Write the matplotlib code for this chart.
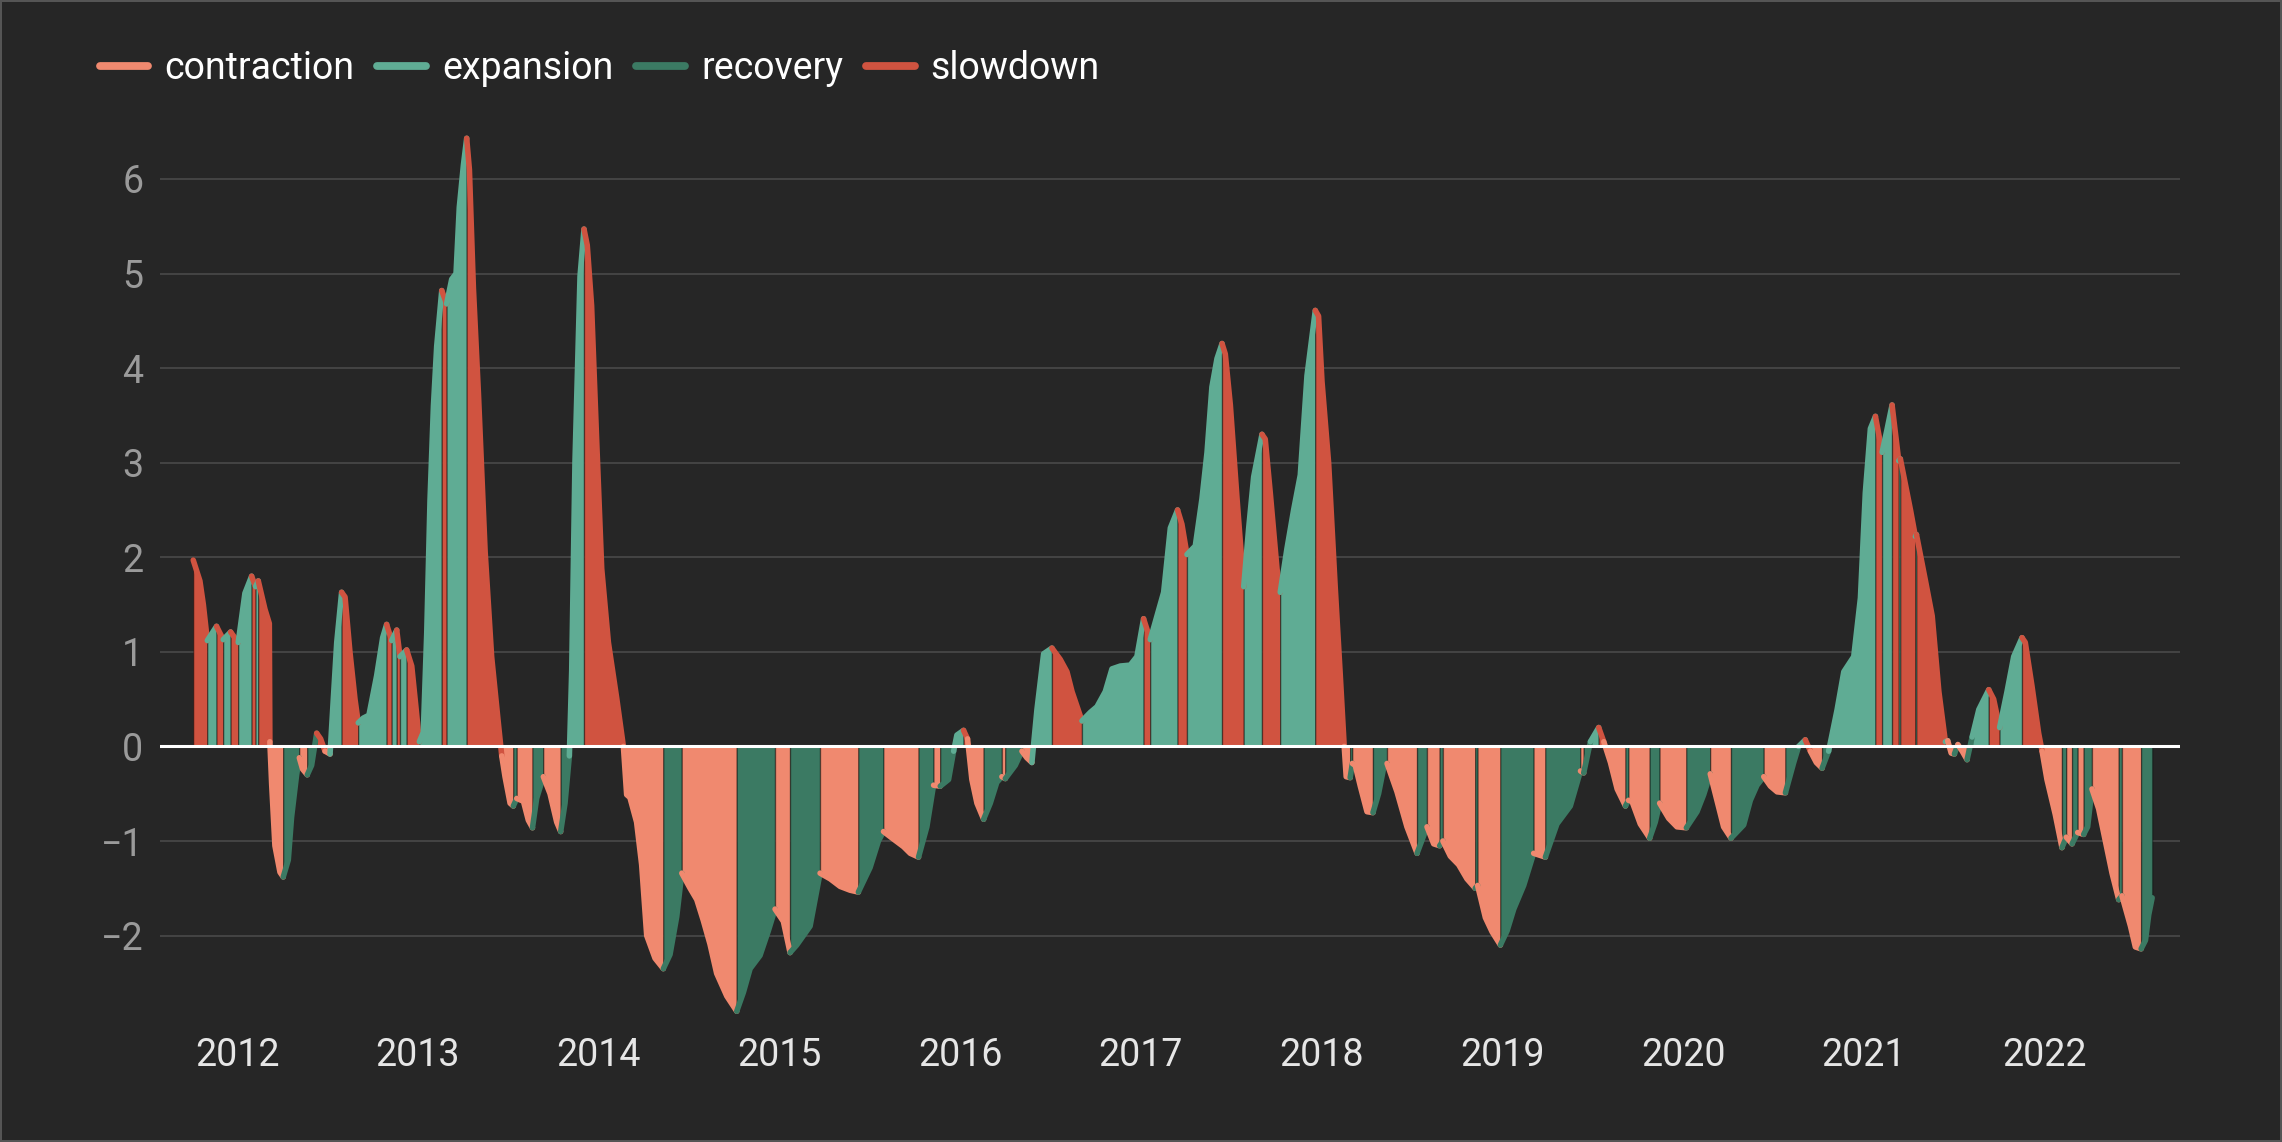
import matplotlib.pyplot as plt
import numpy as np
from matplotlib.lines import Line2D

# decimal year, indicator value
years = [
    2011.757, 2011.794, 2011.813, 2011.835, 2011.886, 2011.923, 2011.964, 2012.006, 2012.043, 2012.080,
    2012.102, 2012.117, 2012.154, 2012.178, 2012.181, 2012.191, 2012.209, 2012.237, 2012.255, 2012.283,
    2012.301, 2012.329, 2012.344, 2012.362, 2012.388, 2012.412, 2012.440, 2012.462, 2012.486, 2012.514,
    2012.532, 2012.551, 2012.578, 2012.597, 2012.624, 2012.652, 2012.670, 2012.698, 2012.729, 2012.772,
    2012.805, 2012.827, 2012.855, 2012.883, 2012.901, 2012.938, 2012.966, 2012.990, 2013.008, 2013.030,
    2013.049, 2013.067, 2013.086, 2013.104, 2013.132, 2013.159, 2013.187, 2013.211, 2013.229, 2013.252,
    2013.270, 2013.285, 2013.307, 2013.335, 2013.372, 2013.408, 2013.445, 2013.464, 2013.482, 2013.510,
    2013.528, 2013.547, 2013.584, 2013.611, 2013.634, 2013.657, 2013.694, 2013.731, 2013.768, 2013.790,
    2013.814, 2013.838, 2013.851, 2013.869, 2013.897, 2013.919, 2013.937, 2013.961, 2013.989, 2014.017,
    2014.054, 2014.100, 2014.137, 2014.155, 2014.173, 2014.210, 2014.238, 2014.266, 2014.312, 2014.358,
    2014.395, 2014.432, 2014.460, 2014.506, 2014.543, 2014.579, 2014.616, 2014.653, 2014.709, 2014.764,
    2014.801, 2014.838, 2014.893, 2014.939, 2014.976, 2015.022, 2015.059, 2015.096, 2015.170, 2015.225,
    2015.281, 2015.336, 2015.391, 2015.437, 2015.502, 2015.548, 2015.576, 2015.631, 2015.687, 2015.724,
    2015.770, 2015.816, 2015.853, 2015.890, 2015.936, 2015.964, 2015.982, 2016.019, 2016.041, 2016.065,
    2016.093, 2016.130, 2016.167, 2016.203, 2016.231, 2016.250, 2016.305, 2016.342, 2016.369, 2016.397,
    2016.425, 2016.462, 2016.508, 2016.554, 2016.591, 2016.619, 2016.674, 2016.720, 2016.757, 2016.803,
    2016.840, 2016.886, 2016.941, 2016.978, 2017.015, 2017.052, 2017.089, 2017.126, 2017.163, 2017.203,
    2017.227, 2017.255, 2017.301, 2017.338, 2017.366, 2017.393, 2017.421, 2017.449, 2017.467, 2017.495,
    2017.532, 2017.569, 2017.596, 2017.624, 2017.670, 2017.688, 2017.716, 2017.753, 2017.771, 2017.808,
    2017.845, 2017.882, 2017.919, 2017.965, 2017.983, 2018.002, 2018.039, 2018.075, 2018.103, 2018.125,
    2018.136, 2018.158, 2018.170, 2018.186, 2018.214, 2018.251, 2018.284, 2018.315, 2018.343, 2018.362,
    2018.417, 2018.472, 2018.528, 2018.583, 2018.620, 2018.653, 2018.671, 2018.712, 2018.758, 2018.804,
    2018.850, 2018.863, 2018.906, 2018.943, 2018.989, 2019.026, 2019.063, 2019.118, 2019.173, 2019.238,
    2019.302, 2019.376, 2019.432, 2019.450, 2019.487, 2019.533, 2019.561, 2019.598, 2019.635, 2019.681,
    2019.698, 2019.717, 2019.763, 2019.815, 2019.846, 2019.870, 2019.920, 2019.966, 2020.018, 2020.077,
    2020.114, 2020.150, 2020.187, 2020.224, 2020.265, 2020.335, 2020.372, 2020.409, 2020.446, 2020.483,
    2020.520, 2020.566, 2020.612, 2020.639, 2020.676, 2020.704, 2020.737, 2020.769, 2020.805, 2020.852,
    2020.889, 2020.944, 2020.981, 2021.008, 2021.036, 2021.064, 2021.101, 2021.128, 2021.156, 2021.193,
    2021.202, 2021.258, 2021.285, 2021.291, 2021.341, 2021.378, 2021.415, 2021.451, 2021.464, 2021.483,
    2021.501, 2021.520, 2021.544, 2021.571, 2021.599, 2021.636, 2021.691, 2021.718, 2021.751, 2021.792,
    2021.829, 2021.875, 2021.893, 2021.930, 2021.967, 2021.986, 2022.013, 2022.059, 2022.096, 2022.120,
    2022.152, 2022.183, 2022.216, 2022.238, 2022.262, 2022.299, 2022.336, 2022.373, 2022.410, 2022.428,
    2022.475, 2022.502, 2022.534, 2022.558, 2022.576, 2022.595,
]
values = [
    1.97, 1.75, 1.50, 1.12, 1.27, 1.13, 1.21, 1.10, 1.62, 1.80,
    1.69, 1.75, 1.45, 1.30, 0.05, -0.40, -1.05, -1.33, -1.38, -1.20,
    -0.75, -0.30, -0.12, -0.24, -0.30, -0.20, 0.14, 0.08, -0.05, -0.08,
    0.50, 1.10, 1.63, 1.58, 1.00, 0.50, 0.25, 0.30, 0.33, 0.75,
    1.15, 1.29, 1.12, 1.23, 0.95, 1.02, 0.85, 0.40, 0.05, 0.15,
    1.20, 2.60, 3.60, 4.23, 4.82, 4.68, 4.94, 5.00, 5.70, 6.15,
    6.43, 6.10, 4.85, 3.73, 2.06, 0.95, 0.25, -0.10, -0.32, -0.60,
    -0.63, -0.55, -0.58, -0.78, -0.86, -0.55, -0.32, -0.50, -0.80, -0.90,
    -0.60, -0.10, 0.80, 3.00, 4.97, 5.47, 5.30, 4.66, 3.24, 1.88,
    1.10, 0.51, 0.00, -0.51, -0.54, -0.80, -1.25, -2.00, -2.24, -2.35,
    -2.20, -1.80, -1.34, -1.50, -1.62, -1.84, -2.09, -2.40, -2.64, -2.80,
    -2.60, -2.35, -2.21, -1.95, -1.72, -1.85, -2.18, -2.10, -1.90, -1.34,
    -1.40, -1.48, -1.52, -1.54, -1.28, -1.00, -0.90, -0.98, -1.06, -1.13,
    -1.17, -0.85, -0.41, -0.42, -0.35, -0.05, 0.12, 0.17, 0.08, -0.35,
    -0.60, -0.77, -0.60, -0.38, -0.32, -0.34, -0.20, -0.05, -0.12, -0.17,
    0.39, 0.98, 1.04, 0.92, 0.79, 0.58, 0.27, 0.36, 0.42, 0.58,
    0.82, 0.85, 0.86, 0.95, 1.35, 1.13, 1.38, 1.63, 2.31, 2.50,
    2.35, 2.03, 2.12, 2.62, 3.11, 3.80, 4.10, 4.26, 4.15, 3.61,
    2.62, 1.69, 2.30, 2.85, 3.30, 3.25, 2.68, 1.88, 1.63, 2.09,
    2.50, 2.87, 3.92, 4.61, 4.55, 3.86, 2.99, 1.69, 0.76, 0.00,
    -0.32, -0.33, -0.18, -0.20, -0.42, -0.69, -0.70, -0.50, -0.23, -0.18,
    -0.48, -0.85, -1.13, -0.85, -1.03, -1.05, -1.00, -1.16, -1.25, -1.40,
    -1.50, -1.47, -1.81, -1.96, -2.10, -1.95, -1.72, -1.47, -1.13, -1.17,
    -0.82, -0.63, -0.26, -0.28, 0.05, 0.20, 0.05, -0.17, -0.45, -0.63,
    -0.57, -0.58, -0.82, -0.97, -0.80, -0.60, -0.76, -0.85, -0.86, -0.69,
    -0.51, -0.29, -0.57, -0.85, -0.97, -0.83, -0.57, -0.41, -0.32, -0.42,
    -0.48, -0.49, -0.17, 0.00, 0.07, -0.05, -0.17, -0.23, -0.05, 0.39,
    0.79, 0.95, 1.57, 2.68, 3.36, 3.49, 3.11, 3.35, 3.61, 3.02,
    3.04, 2.50, 2.22, 2.24, 1.75, 1.38, 0.58, 0.05, 0.06, -0.07,
    -0.08, 0.02, -0.05, -0.14, 0.10, 0.39, 0.60, 0.50, 0.20, 0.58,
    0.95, 1.15, 1.10, 0.64, 0.14, -0.05, -0.35, -0.72, -1.07, -0.96,
    -1.03, -0.91, -0.93, -0.85, -0.45, -0.66, -1.00, -1.34, -1.62, -1.58,
    -1.90, -2.12, -2.14, -2.05, -1.78, -1.60,
]

phases = ["contraction", "expansion", "recovery", "slowdown"]
colors = {"contraction": "#f0896f", "expansion": "#5fac94",
          "recovery": "#3b7a63", "slowdown": "#d05340"}
tick_years = list(range(2012, 2023))

bg = "#262626"
plt.rcParams['font.family'] = ['Roboto', 'DejaVu Sans']

x = np.array(years)
y = np.array(values)

# phase of each step: sign of level and direction of change
def phase_of(i):
    rising = y[i] > y[i - 1]
    pos = (y[i] + y[i - 1]) / 2 > 0
    if pos:
        return "expansion" if rising else "slowdown"
    return "recovery" if rising else "contraction"

step_phase = [phase_of(i) for i in range(1, len(y))]

# group consecutive steps of the same phase into runs
runs = []
start = 0
for k in range(1, len(step_phase) + 1):
    if k == len(step_phase) or step_phase[k] != step_phase[start]:
        runs.append((start, k, step_phase[start]))
        start = k

fig = plt.figure(figsize=(11.41, 5.71), dpi=200, facecolor=bg)
ax = fig.add_axes([0.0701, 0.1062, 0.8852, 0.7785])
ax.set_facecolor(bg)

for s, e, ph in runs:
    xs = x[s:e + 1]
    ys = y[s:e + 1]
    ax.fill_between(xs, ys, 0, facecolor=colors[ph], edgecolor=(0, 0, 0, 0.35),
                    linewidth=0.5, zorder=2)
for s, e, ph in runs:
    ax.plot(x[s:e + 1], y[s:e + 1], color=colors[ph], lw=2.0,
            solid_capstyle='round', solid_joinstyle='round', zorder=3)

ax.axhline(0, color='white', lw=1.1, zorder=4)

ax.set_xlim(2011.573, 2022.749)
ax.set_ylim(-2.9, 6.5)
ax.set_yticks([-2, -1, 0, 1, 2, 3, 4, 5, 6])
ax.set_yticklabels(["\u22122", "\u22121", "0", "1", "2", "3", "4", "5", "6"])
ax.set_xticks(tick_years)
ax.set_xticklabels([str(t) for t in tick_years])
ax.grid(axis='y', color='#4a4a4a', lw=0.6, zorder=0)
ax.set_axisbelow(True)
for sp in ax.spines.values():
    sp.set_visible(False)
ax.tick_params(axis='both', length=0)
ax.tick_params(axis='y', colors='#9a9a9a', labelsize=13.5, pad=6)
ax.tick_params(axis='x', colors='#e6e6e6', labelsize=13.5, pad=5.8)

handles = [Line2D([0], [0], color=colors[p], lw=2.8, solid_capstyle='round') for p in phases]
leg = fig.legend(handles, phases, loc='center left', bbox_to_anchor=(0.0437, 0.940),
                 ncol=4, frameon=False, fontsize=13.5, handlelength=1.3,
                 handletextpad=0.42, columnspacing=0.62, borderpad=0, borderaxespad=0)
for t in leg.get_texts():
    t.set_color('white')

fig.patch.set_edgecolor('#555555')
fig.patch.set_linewidth(0.8)
fig.savefig("out.png", dpi=200, facecolor=bg, edgecolor=fig.get_edgecolor())
